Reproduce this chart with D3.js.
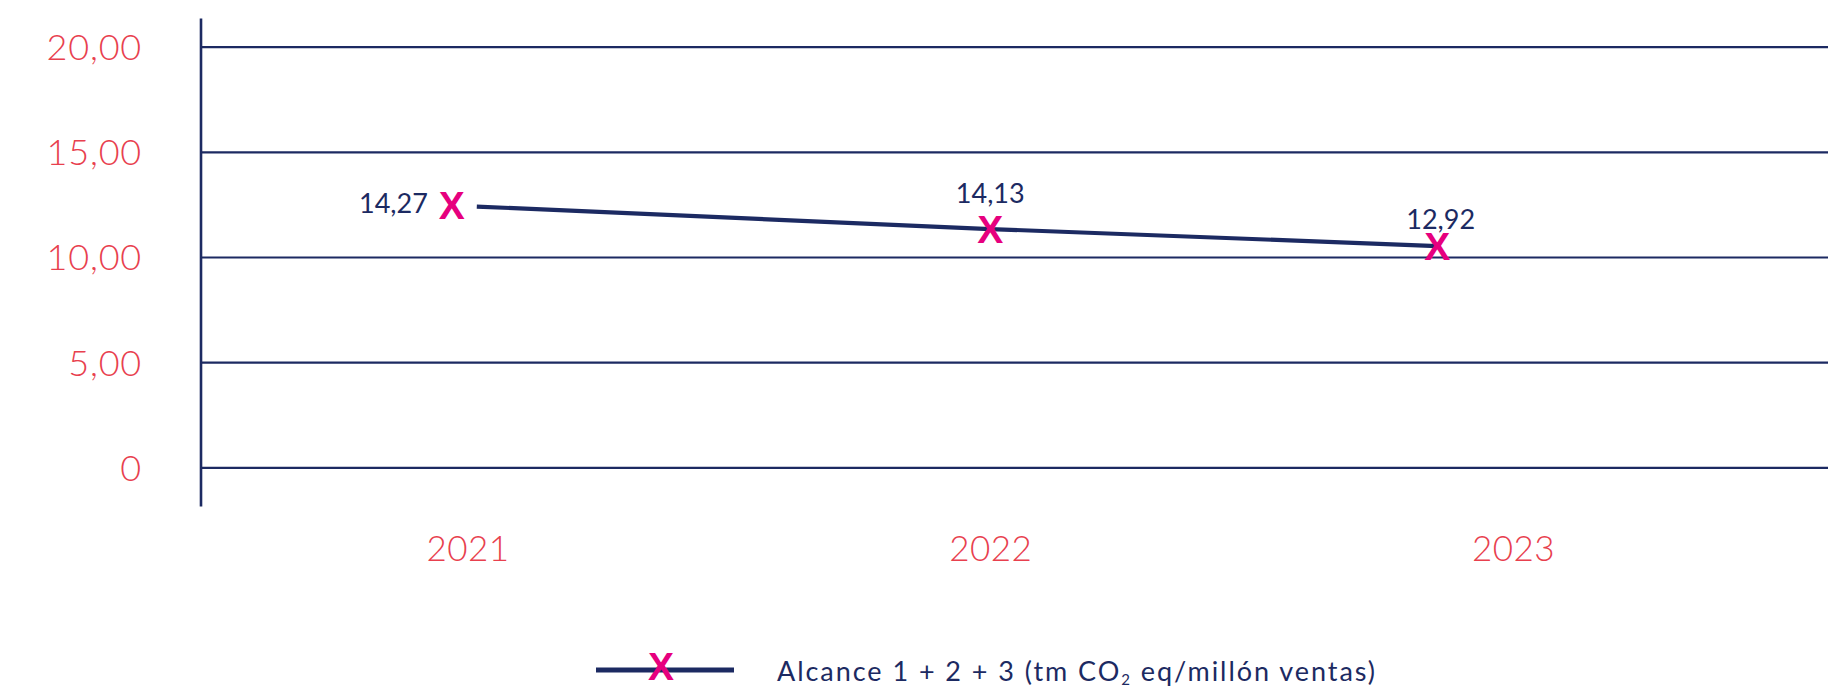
<!DOCTYPE html>
<html>
<head>
<meta charset="utf-8">
<script src="https://cdn.jsdelivr.net/npm/d3@7"></script>
<style>
  html, body { margin: 0; padding: 0; background: #fff; }
  svg { display: block; }
</style>
</head>
<body>
<svg id="chart" width="1828" height="689"></svg>
<script>
// ---- Data ----
const categories = ["2021", "2022", "2023"];
// Plotted marker positions as read against the axes (year position, value on the y axis)
const plotYear = [2020.97, 2022.0, 2022.855];
const plotValue = [12.45, 11.33, 10.52];
// Data labels printed next to the markers
const valueLabels = ["14,27", "14,13", "12,92"];
// Y axis ticks
const yTickValues = [0, 5, 10, 15, 20];
const yTickLabels = ["0", "5,00", "10,00", "15,00", "20,00"];
const seriesName = "Alcance 1 + 2 + 3 (tm CO";
const seriesSub = "2";
const seriesTail = " eq/millón ventas)";

// ---- Layout / style ----
const W = 1828, H = 689;
const navy = "#1c2a62";
const red = "#e8404e";
const pink = "#e6007e";
const plotLeft = 201, plotRight = 1828;
const axisTop = 18.5, axisBottom = 506.5;
const fontNum = "Lato, 'Noto Sans', sans-serif";

const svg = d3.select("#chart");

const y = d3.scaleLinear().domain([0, 20]).range([467.3, 46.7]);
const xCat = d3.scalePoint().domain(categories).range([467.5, 1513]);
const xYear = d3.scaleLinear().domain([2021, 2023]).range([467.5, 1513]);

// Y axis with gridlines
const yAxis = d3.axisLeft(y)
  .tickValues(yTickValues)
  .tickFormat((d, i) => yTickLabels[i])
  .tickSizeInner(-(plotRight - plotLeft))
  .tickSizeOuter(0)
  .tickPadding(59);

const gy = svg.append("g")
  .attr("transform", `translate(${plotLeft},0)`)
  .call(yAxis);
gy.select(".domain").remove();
gy.selectAll(".tick line")
  .attr("stroke", navy)
  .attr("stroke-width", 2.2);
gy.selectAll(".tick text")
  .attr("fill", red)
  .attr("font-family", fontNum)
  .attr("font-weight", 300)
  .attr("font-size", 36)
  .attr("dy", "0.36em")
  .attr("letter-spacing", "0.8px");

// Vertical axis line
svg.append("line")
  .attr("x1", plotLeft).attr("x2", plotLeft)
  .attr("y1", axisTop).attr("y2", axisBottom)
  .attr("stroke", navy)
  .attr("stroke-width", 2.6);

// X axis labels
const xAxis = d3.axisBottom(xCat).tickSize(0).tickPadding(0);
const gx = svg.append("g")
  .attr("transform", "translate(0,561)")
  .call(xAxis);
gx.select(".domain").remove();
gx.selectAll(".tick text")
  .attr("y", 0)
  .attr("dy", 0)
  .attr("fill", red)
  .attr("font-family", fontNum)
  .attr("font-weight", 300)
  .attr("font-size", 35)
  .attr("letter-spacing", "0.4px");

// Series
const pts = plotYear.map((yr, i) => ({ x: xYear(yr), y: y(plotValue[i]), label: valueLabels[i] }));

const line = d3.line().x(d => d.x).y(d => d.y);
const path = svg.append("path")
  .datum(pts)
  .attr("d", line)
  .attr("fill", "none")
  .attr("stroke", navy)
  .attr("stroke-width", 4.2)
  .attr("stroke-linecap", "butt");
const len = path.node().getTotalLength();
path.attr("stroke-dasharray", `0,25,${len}`);

// Markers (pink X)
svg.selectAll("text.marker")
  .data(pts)
  .join("text")
  .attr("class", "marker")
  .attr("x", d => d.x)
  .attr("y", d => d.y + 14)
  .attr("text-anchor", "middle")
  .attr("font-family", "'Liberation Sans', Arial, sans-serif")
  .attr("font-weight", 700)
  .attr("font-size", 39)
  .attr("fill", pink)
  .text("X");

// Data labels
const labelPlacement = [
  { dx: -24, dy: 8, anchor: "end" },
  { dx: 0, dy: -26, anchor: "middle" },
  { dx: 3.5, dy: -17, anchor: "middle" }
];
svg.selectAll("text.vlabel")
  .data(pts)
  .join("text")
  .attr("class", "vlabel")
  .attr("x", (d, i) => d.x + labelPlacement[i].dx)
  .attr("y", (d, i) => d.y + labelPlacement[i].dy)
  .attr("text-anchor", (d, i) => labelPlacement[i].anchor)
  .attr("font-family", fontNum)
  .attr("font-size", 27)
  .attr("fill", navy)
  .text(d => d.label);

// Legend
const lg = svg.append("g");
lg.append("line")
  .attr("x1", 596).attr("x2", 734)
  .attr("y1", 670).attr("y2", 670)
  .attr("stroke", navy)
  .attr("stroke-width", 4.8);
lg.append("text")
  .attr("x", 661)
  .attr("y", 666 + 14)
  .attr("text-anchor", "middle")
  .attr("font-family", "'Liberation Sans', Arial, sans-serif")
  .attr("font-weight", 700)
  .attr("font-size", 39)
  .attr("fill", pink)
  .text("X");
const lt = lg.append("text")
  .attr("x", 777)
  .attr("y", 681)
  .attr("font-family", fontNum)
  .attr("font-size", 27)
  .attr("fill", navy);
lt.append("tspan").text(seriesName);
lt.append("tspan").attr("font-size", 15).attr("dy", 4).text(seriesSub);
lt.append("tspan").attr("dy", -4).text(seriesTail);
// stretch legend text to the reference's width (about 600 px) via letter spacing
const targetW = 600;
const nChars = (seriesName + seriesSub + seriesTail).length;
const w0 = lt.node().getComputedTextLength();
lt.attr("letter-spacing", `${Math.max(0, (targetW - w0) / nChars)}px`);
</script>
</body>
</html>
